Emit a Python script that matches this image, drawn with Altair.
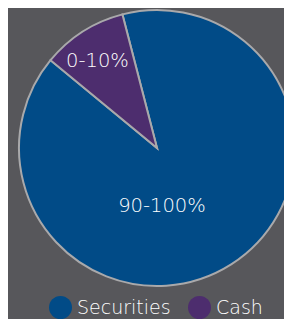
import math
import altair as alt
import pandas as pd

categories = ["Securities", "Cash"]
values = [90, 10]
labels = ["90-100%", "0-10%"]
colors = ["#014b87", "#4d2d6e"]

df = pd.DataFrame({"category": categories, "value": values, "label": labels})

start = -14.5 * math.pi / 180
cx, cy, r = 149, 140, 138

base = alt.Chart(df)

arcs = base.mark_arc(outerRadius=r, stroke="#a9a9ab", strokeWidth=2).encode(
    x=alt.value(cx),
    y=alt.value(cy),
    theta=alt.Theta("value:Q", stack=True, scale=alt.Scale(range=[start, start + 2 * math.pi])),
    color=alt.Color(
        "category:N",
        sort=categories,
        scale=alt.Scale(domain=categories, range=colors),
        legend=alt.Legend(
            title=None,
            orient="none",
            legendX=41,
            legendY=288,
            direction="horizontal",
            symbolType="circle",
            symbolSize=529,
            symbolStrokeWidth=0,
            labelFontSize=19,
            labelFontWeight=300,
            labelColor="#ffffff",
            labelFont="DejaVu Sans",
            labelOffset=5,
            columnPadding=17,
            padding=0,
        ),
    ),
    order=alt.Order("order:Q"),
).transform_calculate(order="indexof(['Securities','Cash'], datum.category)")

cash_label = base.transform_filter(alt.datum.category == "Cash").mark_text(
    radius=105.8, theta=5.686, fontSize=19.5, fontWeight=300, color="#ffffff",
    font="DejaVu Sans", baseline="middle"
).encode(x=alt.value(cx), y=alt.value(cy), text="label:N")

sec_label = base.transform_filter(alt.datum.category == "Securities").mark_text(
    radius=58.2, theta=3.056, fontSize=19.5, fontWeight=300, color="#ffffff",
    font="DejaVu Sans", baseline="middle"
).encode(x=alt.value(cx), y=alt.value(cy), text="label:N")

chart = alt.layer(arcs, cash_label, sec_label).properties(
    width=276, height=311, padding=0, background="#57575b",
    autosize=alt.AutoSizeParams(type="none"),
).configure_view(stroke=None)

chart.save("out.html", embed_options={"renderer": "svg", "actions": False})
